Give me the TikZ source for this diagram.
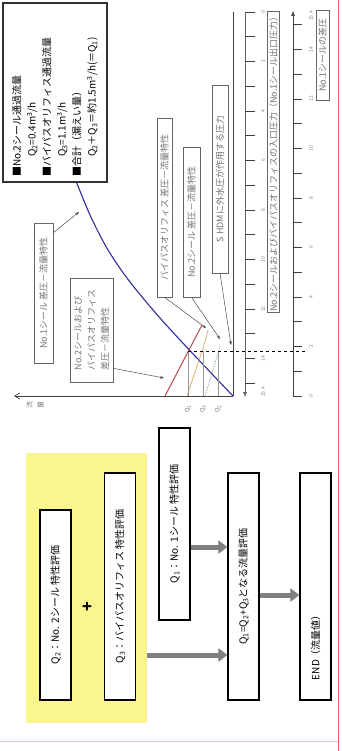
\documentclass[tikz,border=0pt]{standalone}
\usepackage{fontspec}
\setmainfont{Noto Sans CJK JP}
\usepackage{xcolor}
\definecolor{chartblue}{HTML}{2E2E9E}
\definecolor{chartred}{HTML}{C24A4A}
\definecolor{charttan}{HTML}{DDB07A}
\definecolor{chartteal}{HTML}{5F9C9C}
\definecolor{groupyellow}{HTML}{FAF68E}
\definecolor{framered}{HTML}{E06A6A}
\usetikzlibrary{arrows.meta, calc, positioning}

\begin{document}
\begin{tikzpicture}[x=1pt, y=-1pt]
\tikzset{
  flowbox/.style={draw, line width=1.2pt, fill=white, rotate=90, minimum width=227pt,
    minimum height=31pt, inner sep=2pt, font=\fontsize{10}{12}\selectfont},
  graybar/.style={draw=black!50, line width=5pt, -{Triangle[length=9pt, width=13pt]}},
  tagbox/.style={draw=black!60, line width=0.6pt, fill=white, rotate=90, inner sep=1pt,
    text=black!55, font=\fontsize{9}{13.5}\selectfont},
  pointer/.style={black!70, line width=0.5pt, -{Stealth[length=4pt, width=3pt]}},
  scalenum/.style={rotate=90, text=black!50, font=\fontsize{5}{6}\selectfont, inner sep=0pt},
}
  \useasboundingbox (0,0) rectangle (341,751);

  % page frame
  \draw[framered, line width=1pt] (338.5,0) -- (338.5,751);
  \draw[framered!40, line width=0.6pt] (0,741) -- (338,741);

  % ---------------- chart ----------------
  % axes
  \draw[black!75, line width=0.8pt] (233,396) -- (233,12);
  \draw[black!75, line width=0.7pt, -{Straight Barb[length=5pt, width=6pt]}] (233,396) -- (14,396);
  \node[rotate=90, align=center, text=black!50, font=\fontsize{7}{11}\selectfont] (flowaxis) at (35,405) {流\\量};

  % characteristic curves
  \draw[chartblue, line width=1.1pt] plot[smooth] coordinates
    {(74,176) (90,215) (108,250) (130,282) (160,318) (195,356) (233,396)};
  \draw[chartred, line width=1pt] (165,396) -- (202,325);
  \draw[charttan, line width=0.8pt] plot[smooth] coordinates {(187,396) (197,366) (204,345) (208,330)};
  \draw[chartteal, line width=0.7pt, densely dotted] plot[smooth] coordinates {(205,396) (213,370) (220,346)};

  % operating point
  \foreach \qx in {188,203,218}
    \draw[black!40, line width=0.4pt] (\qx,351) -- (\qx,396);
  \draw[black, line width=0.5pt, dashed] (188,351) -- (305,351);
  \node[scalenum, font=\fontsize{6}{7}\selectfont] (q1mark) at (188,409) {Q\textsubscript{1}};
  \node[scalenum, font=\fontsize{6}{7}\selectfont] (q3mark) at (203,409) {Q\textsubscript{3}};
  \node[scalenum, font=\fontsize{6}{7}\selectfont] (q2mark) at (218,409) {Q\textsubscript{2}};

  % inlet pressure scale
  \draw[black!60, line width=0.4pt, -{Latex[length=5pt, width=4pt]}] (245,12) -- (245,397);
  \foreach \k in {0,...,15}
    \draw[black!75, line width=0.8pt] (245,{12+24.75*\k}) -- (255,{12+24.75*\k});
  \foreach \k in {0,2,...,14}
    \node[scalenum] at (263,{12+24.75*\k}) {\k};
  \node[scalenum] at (263,392) {15.4};

  % No.1 seal differential pressure scale
  \draw[black!75, line width=0.6pt, -{Latex[length=5pt, width=4pt]}] (293,397) -- (293,11);
  \foreach \k in {0,...,15}
    \draw[black!75, line width=0.8pt] (293,{396-24.75*\k}) -- (302,{396-24.75*\k});
  \foreach \k in {0,2,...,14}
    \node[scalenum] at (311,{396-24.75*\k}) {\k};
  \node[scalenum] at (311,16) {15.4};

  % scale labels
  \node[tagbox, minimum width=300pt, minimum height=12pt] (inscale) at (273.5,162)
    {No.2シールおよびバイパスオリフィスの入口圧力（No.1シール出口圧力）};
  \node[tagbox, minimum width=90pt, minimum height=13pt] (dpscale) at (322.5,55)
    {No.1シールの差圧};

  % curve labels
  \node[tagbox, minimum width=140pt, minimum height=19pt] (tagseal1) at (43.5,293)
    {No.1シール\ 差圧－流量特性};
  \node[tagbox, minimum width=104pt, minimum height=43pt, align=left, inner xsep=3pt] (tagboth) at (91.5,330)
    {No.2シールおよび\\バイパスオリフィス\\差圧－流量特性};
  \node[tagbox, minimum width=179pt, minimum height=15pt] (tagorifice) at (164.5,207.5)
    {バイパスオリフィス\ 差圧－流量特性};
  \node[tagbox, minimum width=150pt, minimum height=17pt] (tagseal2) at (191.5,222)
    {No.2シール\ 差圧－流量特性};
  \node[tagbox, minimum width=188pt, minimum height=16pt] (tagwater) at (220,179)
    {S HDMに外水圧が作用する圧力};

  \coordinate (onblue) at (79,212);
  \coordinate (onred) at (164,378);
  \coordinate (ontan) at (206,328);
  \coordinate (onteal) at (220,339);
  \coordinate (onaxis) at (231,345);
  \draw[pointer] ([yshift=-10pt]tagseal1.south east) -- (onblue);
  \draw[pointer] ([yshift=14pt]tagboth.south west) -- (onred);
  \draw[pointer] (tagorifice.west) -- (ontan);
  \draw[pointer] (tagseal2.west) -- (onteal);
  \draw[pointer] (tagwater.west) -- (onaxis);

  % legend
  \node[draw=black!80, line width=1.2pt, fill=white, rotate=90, minimum width=179pt,
    minimum height=104pt, align=left, text width=169pt, inner xsep=5pt,
    font=\fontsize{10}{15}\selectfont] (legend) at (55,92.5)
    {■No.2シール通過流量\\
     \hspace*{2em}Q\textsubscript{2}=0.4m\textsuperscript{3}/h\\
     ■バイパスオリフィス通過流量\\
     \hspace*{2em}Q\textsubscript{3}=1.1m\textsuperscript{3}/h\\
     ■合計（漏えい量）\\
     \hspace*{2em}Q\textsubscript{2}＋Q\textsubscript{3}＝約1.5m\textsuperscript{3}/h(＝Q\textsubscript{1})};

  % ---------------- flow ----------------
  \node[fill=groupyellow, rotate=90, minimum width=270pt, minimum height=121pt, inner sep=0pt] (group) at (86.5,588) {};
  \node[flowbox, minimum width=190pt] (q2eval) at (55.5,605) {Q\textsubscript{2}：No. 2シール\ 特性評価};
  \node[rotate=90, font=\fontsize{16}{16}\selectfont\bfseries] (plus) at (88,607) {+};
  \node[flowbox] (q3eval) at (120,586.5) {Q\textsubscript{3}：バイパスオリフィス\ 特性評価};
  \node[flowbox, minimum width=192pt] (q1eval) at (174.5,524) {Q\textsubscript{1}：No. 1シール\ 特性評価};
  \node[flowbox] (sumeval) at (243.5,586.5) {Q\textsubscript{1}=Q\textsubscript{2}+Q\textsubscript{3}となる流量評価};
  \node[flowbox, align=left, text width=187pt, inner xsep=20pt] (endval) at (315.5,586.5) {END（流量値）};

  \path (group.south) ++(0,67) coordinate (fromgroup);
  \path (q1eval.south) ++(0,23) coordinate (fromq1);
  \path (sumeval.south) ++(0,8.5) coordinate (fromsum);
  \draw[graybar] (fromgroup) -- (fromgroup -| sumeval.north);
  \draw[graybar] (fromq1) -- (fromq1 -| sumeval.north);
  \draw[graybar] (fromsum) -- (fromsum -| endval.north);
\end{tikzpicture}
\end{document}
